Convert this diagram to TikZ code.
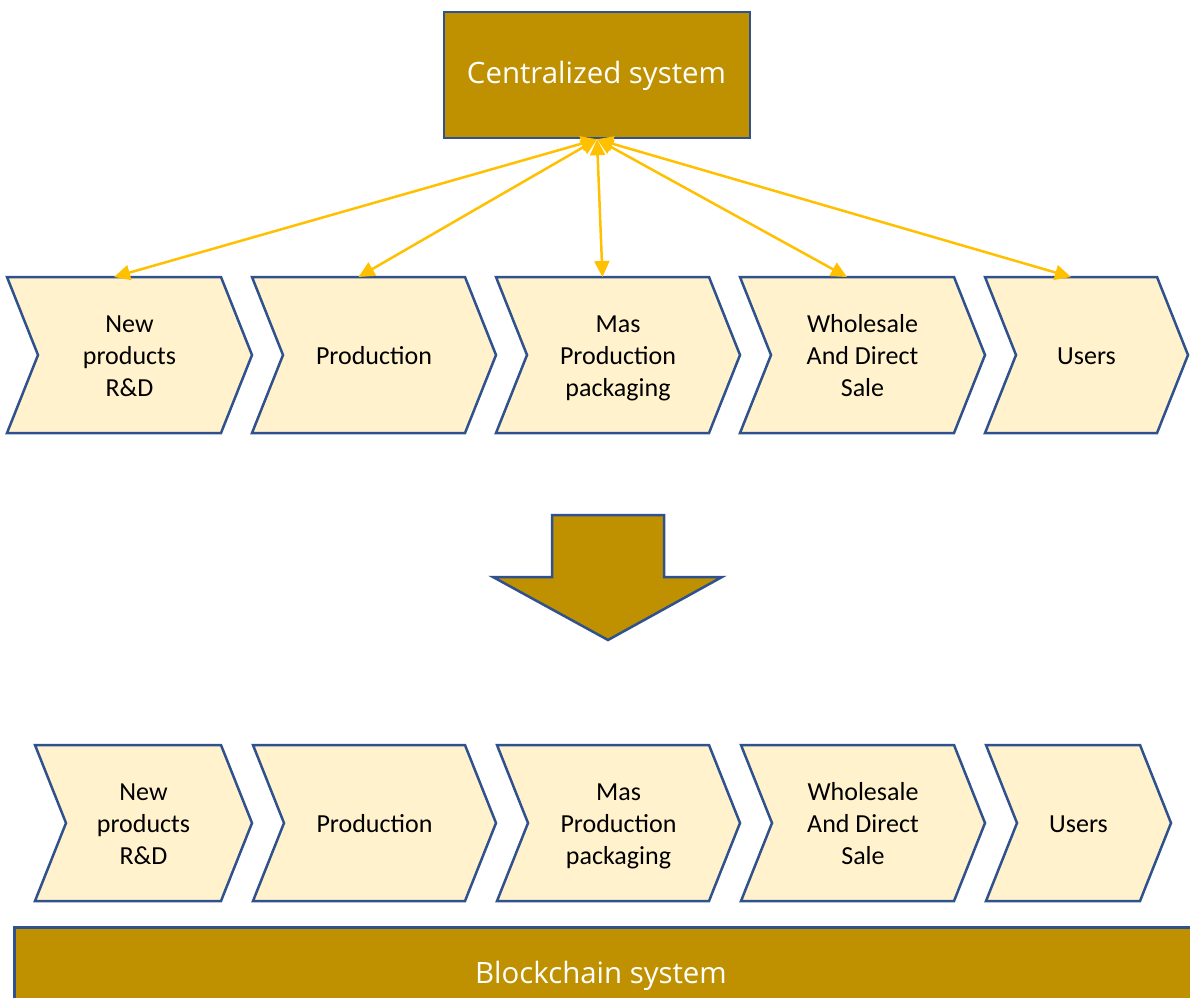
\documentclass[tikz,border=0pt]{standalone}
\usepackage{fontspec}
\setmainfont{Carlito}
\newfontfamily\headfont{Open Sans}
\usetikzlibrary{arrows.meta}
\definecolor{gold}{HTML}{BF9000}
\definecolor{cream}{HTML}{FFF2CC}
\definecolor{edgeblue}{HTML}{2F528F}
\definecolor{linkyellow}{HTML}{FFC000}
\newcommand\chs{\rule[-6pt]{0pt}{31pt}}
\newcommand\chevron[6]{%
  \draw[chevshape] (#2,#4) -- ({#3-31},#4) -- (#3,{(#4+#5)/2}) -- ({#3-31},#5) -- (#2,#5) -- ({#2+31},{(#4+#5)/2}) -- cycle;
  \node[chevtext] (#1) at ({(#2+#3)/2},{(#4+#5)/2}) {#6};
  \coordinate (#1t) at ({(#2+#3-31)/2},#4);
}
\begin{document}
\begin{tikzpicture}[x=1pt,y=-1pt,
  chevshape/.style={draw=edgeblue,fill=cream,line width=2.5pt,line join=miter},
  chevtext/.style={align=center,inner sep=0pt,text=black,font=\fontsize{26}{32}\selectfont},
  goldbox/.style={draw=edgeblue,fill=gold,line width=2.5pt},
  headtext/.style={text=white,inner sep=0pt,font=\headfont\fontsize{29.4}{35}\selectfont},
  link/.style={draw=linkyellow,line width=2.5pt,{Triangle[length=16pt,width=15pt]}-{Triangle[length=16pt,width=15pt]}}]
\useasboundingbox (0,0) rectangle (1190,997);
\clip (0,0) rectangle (1190,997);
% centralized system
\node[goldbox,minimum width=306pt,minimum height=126pt,inner sep=0pt] (cs) at (597,75) {};
\node[headtext,anchor=base] (cstext) at (596.5,83) {Centralized system};
% top row
\chevron{a1}{7}{252}{277}{433}{\chs New\\\chs products\\\chs R\&D}
\chevron{a2}{252}{496}{277}{433}{\chs Production}
\chevron{a3}{496}{740}{277}{433}{\chs Mas\\\chs Production\\\chs packaging}
\chevron{a4}{740}{985}{277}{433}{\chs Wholesale\\\chs And Direct\\\chs Sale}
\chevron{a5}{985}{1188}{277}{433}{\chs Users}
% links
\foreach \k in {1,...,5}{\draw[link] (cs.south) -- (a\k t);}
% big down arrow
\draw[goldbox,line join=miter] (552,515) -- (664,515) -- (664,577) -- (722,577) -- (608,640) -- (493,577) -- (552,577) -- cycle;
% bottom row
\chevron{b1}{35}{252}{745}{901}{\chs New\\\chs products\\\chs R\&D}
\chevron{b2}{253}{496}{745}{901}{\chs Production}
\chevron{b3}{497}{740}{745}{901}{\chs Mas\\\chs Production\\\chs packaging}
\chevron{b4}{741}{985}{745}{901}{\chs Wholesale\\\chs And Direct\\\chs Sale}
\chevron{b5}{986}{1171}{745}{901}{\chs Users}
% blockchain bar
\node[goldbox,minimum width=1200pt,minimum height=100pt,inner sep=0pt,anchor=north west] (bc) at (13,926) {};
\node[headtext,anchor=base] (bctext) at (601,983) {Blockchain system};
\end{tikzpicture}
\end{document}
